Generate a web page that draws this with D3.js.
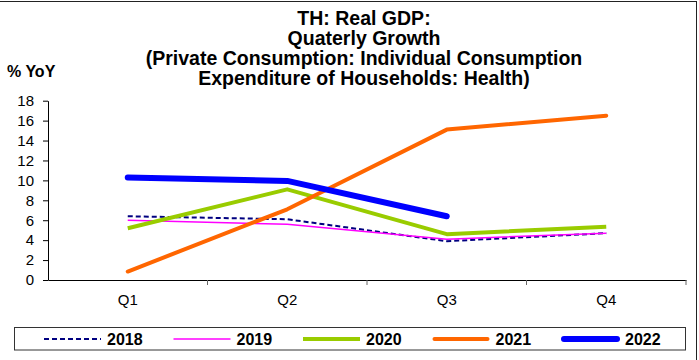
<!DOCTYPE html>
<html><head><meta charset="utf-8">
<script src="https://cdn.jsdelivr.net/npm/d3@7"></script>
<style>body{margin:0;background:#fff;}svg{display:block;font-family:"Liberation Sans",Arial,sans-serif;}</style>
</head><body>
<svg id="c" width="699" height="360"></svg>
<script>
const quarters = ["Q1","Q2","Q3","Q4"];
const yTicks = [0,2,4,6,8,10,12,14,16,18];
const titleLines = ["TH: Real GDP:","Quaterly Growth","(Private Consumption: Individual Consumption","Expenditure of Households: Health)"];
const s2018 = [6.4, 6.1, 3.9, 4.7];
const s2019 = [6.0, 5.6, 4.1, 4.7];
const s2020 = [5.2, 9.1, 4.6, 5.35];
const s2021 = [0.85, 7.1, 15.1, 16.5];
const s2022 = [10.3, 9.95, 6.4];
const seriesNames = ["2018","2019","2020","2021","2022"];

const series = [
  {name:"2018", values:s2018, color:"#000080", width:2, dash:"5,3", cap:"butt"},
  {name:"2019", values:s2019, color:"#ff00ff", width:1.5, dash:null, cap:"butt"},
  {name:"2020", values:s2020, color:"#99cc00", width:4, dash:null, cap:"butt"},
  {name:"2021", values:s2021, color:"#ff6600", width:4, dash:null, cap:"round"},
  {name:"2022", values:s2022, color:"#0000ff", width:6, dash:null, cap:"round"}
];

const svg = d3.select("#c");
svg.append("rect").attr("x",-2).attr("y",1.5).attr("width",698.5).attr("height",370)
  .attr("fill","none").attr("stroke","#222").attr("stroke-width",1);

const pLeft=48, pRight=686, pTop=100.7, pBottom=280;
const x = d3.scaleBand().domain(quarters).range([pLeft,pRight]);
const y = d3.scaleLinear().domain([0,18]).range([pBottom,pTop]);

const t = svg.append("text").attr("text-anchor","middle").attr("font-weight","bold").attr("font-size",19.5).attr("fill","#000");
titleLines.forEach((l,i)=>{ t.append("tspan").attr("x",364).attr("y",25+i*20).text(l); });

svg.append("text").attr("x",7).attr("y",77).attr("font-weight","bold").attr("font-size",16).text("% YoY");

const ya = svg.append("g").attr("transform",`translate(${pLeft},0)`)
  .call(d3.axisLeft(y).tickValues(yTicks).tickSize(5).tickPadding(9).tickSizeOuter(0));
ya.select(".domain").attr("stroke","#000");
ya.selectAll(".tick line").attr("stroke","#000");
ya.selectAll("text").attr("font-size",15).attr("fill","#000").attr("font-family","Liberation Sans, Arial, sans-serif");

const xa = svg.append("g").attr("transform",`translate(0,${pBottom})`)
  .call(d3.axisBottom(x).tickSize(0).tickPadding(14));
xa.select(".domain").attr("stroke","#000");
xa.selectAll("text").attr("font-size",15).attr("fill","#000").attr("font-family","Liberation Sans, Arial, sans-serif");
const bounds = quarters.map(q=>x(q)+x.bandwidth());
xa.selectAll(".bt").data(bounds).enter().append("line")
  .attr("x1",d=>d).attr("x2",d=>d).attr("y1",0).attr("y2",5).attr("stroke","#666");

const line = d3.line().x((d,i)=>x(quarters[i])+x.bandwidth()/2).y(d=>y(d));
series.forEach(s=>{
  svg.append("path").datum(s.values).attr("d",line).attr("fill","none")
    .attr("stroke",s.color).attr("stroke-width",s.width)
    .attr("stroke-dasharray",s.dash).attr("stroke-linecap",s.cap).attr("stroke-linejoin","round");
});

svg.append("rect").attr("x",14.5).attr("y",327.5).attr("width",671).attr("height",22.5)
  .attr("fill","#fff").attr("stroke","#333").attr("stroke-width",1);
const lx = d3.scalePoint().domain(seriesNames).range([44,562]);
series.forEach(s=>{
  const x0 = lx(s.name);
  svg.append("line").attr("x1",x0+(s.cap==="round"?2:0)).attr("x2",x0+57-(s.cap==="round"?2:0)).attr("y1",339).attr("y2",339)
    .attr("stroke",s.color).attr("stroke-width",s.width).attr("stroke-dasharray",s.dash).attr("stroke-linecap",s.cap);
  svg.append("text").attr("x",x0+63).attr("y",345).attr("font-weight","bold").attr("font-size",16).text(s.name);
});
</script>
</body></html>
